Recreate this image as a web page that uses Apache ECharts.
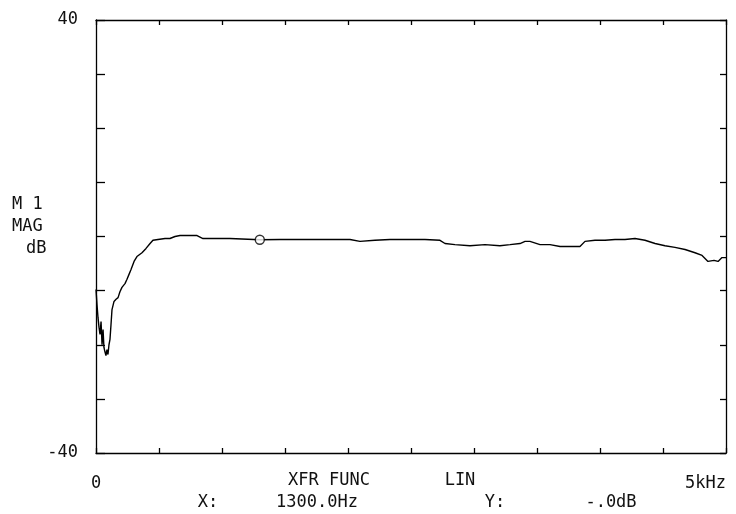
<!DOCTYPE html>
<html>
<head>
<meta charset="utf-8">
<script src="https://cdn.jsdelivr.net/npm/echarts@6/dist/echarts.min.js"></script>
<style>html,body{margin:0;padding:0;background:#fff}#c{width:736px;height:514px}</style>
</head>
<body>
<div id="c"></div>
<script>
// Frequency (Hz) and magnitude (dB)
const freqHz = [0,8,16,24,32,40,48,56,63,71,79,87,95,103,111,119,127,143,159,175,190,206,230,246,262,278,302,325,365,397,429,452,492,548,587,627,667,746,802,849,1063,1300,1460,1619,1778,1937,2016,2095,2214,2333,2492,2611,2730,2770,2849,2968,3087,3206,3286,3365,3405,3444,3524,3603,3683,3762,3841,3881,3960,4040,4119,4198,4278,4357,4437,4516,4595,4675,4754,4810,4857,4905,4937,4968,5000];
const magDb  = [-9.8,-12.6,-15.0,-16.8,-18.1,-15.7,-20.0,-17.2,-20.5,-21.3,-22.0,-20.9,-21.8,-20.0,-19.0,-16.3,-13.5,-12.0,-11.6,-11.3,-10.2,-9.4,-8.7,-7.9,-7.0,-6.1,-4.6,-3.7,-3.0,-2.2,-1.3,-0.7,-0.55,-0.37,-0.37,0,0.18,0.18,0.18,-0.37,-0.37,-0.6,-0.55,-0.55,-0.55,-0.55,-0.55,-0.9,-0.7,-0.55,-0.55,-0.55,-0.7,-1.3,-1.5,-1.7,-1.5,-1.7,-1.5,-1.3,-0.9,-0.9,-1.5,-1.5,-1.85,-1.85,-1.85,-0.9,-0.7,-0.7,-0.55,-0.55,-0.37,-0.7,-1.3,-1.7,-2.0,-2.4,-3.0,-3.5,-4.6,-4.4,-4.6,-3.9,-3.9];
const markerHz = [1300];
const markerDb = [-0.6];
const xTickLabels = {0: '0', 5000: '5kHz'};
const yTickLabels = {40: '40', '-40': '-40'};
const footerRow1 = ['XFR FUNC', 'LIN'];
const footerRow2 = ['X:', '1300.0Hz', 'Y:', '-.0dB'];
const yTitle = ['M 1', 'MAG', 'dB'];

const FONT = 'DejaVu Sans Mono';
const chart = echarts.init(document.getElementById('c'), null, {renderer: 'canvas'});
const lineData = freqHz.map((f, i) => [f, magDb[i]]);
const markData = markerHz.map((f, i) => [f, markerDb[i]]);
const axisLine = {show: true, onZero: false, lineStyle: {color: '#000', width: 1.3}};
function txt(text, x, y, align) {
  return {type: 'text', x: x, y: y,
    style: {text: text, fill: '#111', font: '17px "' + FONT + '"', textAlign: align || 'center', textVerticalAlign: 'middle'}};
}
chart.setOption({
  backgroundColor: '#fff',
  animation: false,
  grid: {left: 96, right: 10, top: 20, bottom: 61},
  xAxis: [{
    type: 'value', min: 0, max: 5000, interval: 500, position: 'bottom',
    axisLine: axisLine, splitLine: {show: false},
    axisTick: {show: true, inside: true, length: 5, lineStyle: {color: '#000', width: 1.3}},
    axisLabel: {show: true, margin: 22, color: '#111', fontFamily: FONT, fontSize: 17,
      formatter: v => xTickLabels[v] || '', alignMaxLabel: 'right', showMinLabel: true, showMaxLabel: true}
  }, {
    type: 'value', min: 0, max: 5000, interval: 500, position: 'top',
    axisLine: axisLine, splitLine: {show: false},
    axisTick: {show: true, inside: true, length: 5, lineStyle: {color: '#000', width: 1.3}},
    axisLabel: {show: false}
  }],
  yAxis: [{
    type: 'value', min: -40, max: 40, interval: 10, position: 'left',
    axisLine: axisLine, splitLine: {show: false},
    axisTick: {show: true, inside: true, length: 9, lineStyle: {color: '#000', width: 1.3}},
    axisLabel: {show: true, margin: 18, color: '#111', fontFamily: FONT, fontSize: 17,
      formatter: v => yTickLabels[v] || ''}
  }, {
    type: 'value', min: -40, max: 40, interval: 10, position: 'right',
    axisLine: axisLine, splitLine: {show: false},
    axisTick: {show: true, inside: true, length: 6, lineStyle: {color: '#000', width: 1.3}},
    axisLabel: {show: false}
  }],
  series: [{
    type: 'line', data: lineData, showSymbol: false, symbol: 'none',
    lineStyle: {color: '#000', width: 1.4}, z: 2
  }, {
    type: 'scatter', data: markData, symbol: 'circle', symbolSize: 9,
    itemStyle: {color: '#fff', borderColor: '#000', borderWidth: 1.4}, z: 3
  }],
  graphic: [
    txt(yTitle[0], 12, 205, 'left'),
    txt(yTitle[1], 12, 227, 'left'),
    txt(yTitle[2], 26, 249, 'left'),
    txt(footerRow1[0], 329, 481),
    txt(footerRow1[1], 460, 481),
    txt(footerRow2[0], 208, 503),
    txt(footerRow2[1], 317, 503),
    txt(footerRow2[2], 495, 503),
    txt(footerRow2[3], 611, 503)
  ]
});
</script>
</body>
</html>
